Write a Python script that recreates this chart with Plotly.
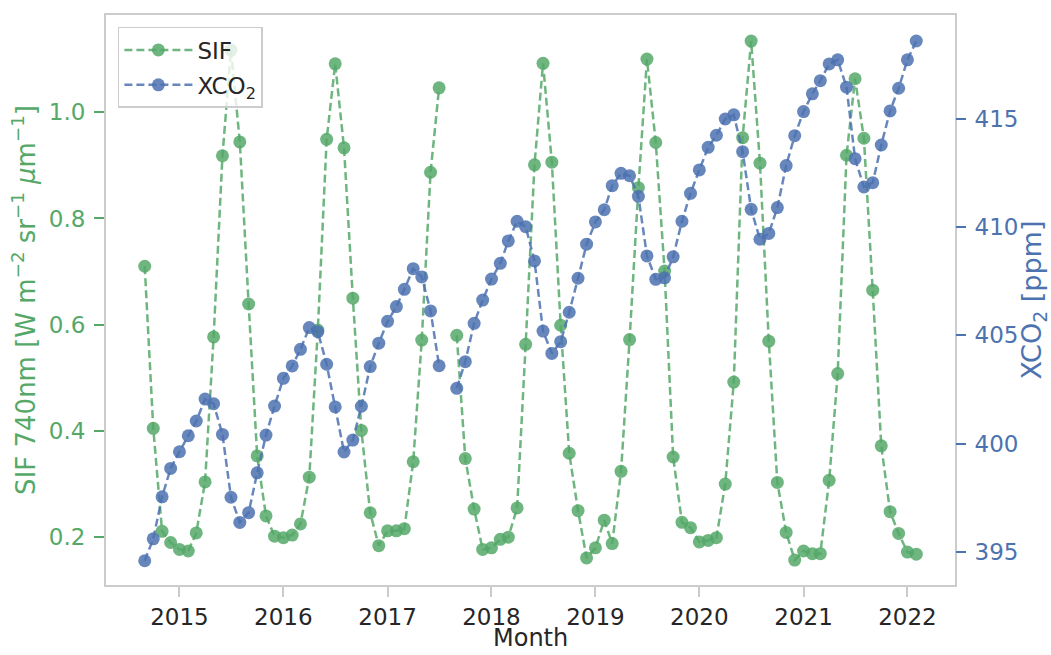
import pandas as pd
import plotly.graph_objects as go

# Monthly series, Sep 2014 - Feb 2022 (None = month with no retrieval)
months = pd.date_range("2014-09-01", "2022-02-01", freq="MS")

sif = [
    0.710, 0.405, 0.211, 0.190,
    0.177, 0.174, 0.208, 0.304, 0.577, 0.918, 1.117, 0.944, 0.639, 0.353, 0.240, 0.202,
    0.199, 0.204, 0.225, 0.313, 0.590, 0.949, 1.091, 0.933, 0.650, 0.401, 0.246, 0.184,
    0.212, 0.212, 0.216, 0.342, 0.571, 0.887, 1.046, None, 0.580, 0.348, 0.253, 0.177,
    0.180, 0.196, 0.200, 0.255, 0.563, 0.901, 1.092, 0.906, 0.599, 0.358, 0.250, 0.161,
    0.180, 0.232, 0.188, 0.324, 0.572, 0.858, 1.100, 0.943, 0.701, 0.351, 0.228, 0.218,
    0.191, 0.194, 0.199, 0.300, 0.492, 0.952, 1.134, 0.904, 0.569, 0.303, 0.209, 0.157,
    0.174, 0.169, 0.169, 0.307, 0.508, 0.919, 1.063, 0.951, 0.665, 0.372, 0.248, 0.207,
    0.172, 0.168,
]

xco2 = [
    394.59, 395.60, 397.54, 398.85,
    399.62, 400.36, 401.04, 402.05, 401.84, 400.42, 397.52, 396.36, 396.81, 398.65, 400.39, 401.73,
    403.01, 403.58, 404.35, 405.35, 405.16, 403.66, 401.69, 399.61, 400.16, 401.72, 403.55, 404.63,
    405.64, 406.32, 407.12, 408.07, 407.69, 406.12, 403.59, None, 402.55, 403.78, 405.55, 406.62,
    407.59, 408.32, 409.35, 410.26, 410.01, 408.43, 405.19, 404.16, 404.70, 406.06, 407.63, 409.20,
    410.23, 410.79, 411.90, 412.47, 412.36, 411.41, 408.66, 407.58, 407.65, 408.62, 410.26, 411.55,
    412.63, 413.67, 414.23, 414.98, 415.17, 413.47, 410.81, 409.43, 409.70, 410.89, 412.83, 414.21,
    415.32, 416.14, 416.75, 417.52, 417.71, 416.45, 413.15, 411.84, 412.04, 413.78, 415.35, 416.40,
    417.71, 418.58,
]

sif_ticks = [0.2, 0.4, 0.6, 0.8, 1.0]
xco2_ticks = [395, 400, 405, 410, 415]
year_ticks = [f"{y}-01-01" for y in range(2015, 2023)]
year_labels = [str(y) for y in range(2015, 2023)]

GREEN = "#55A868"
BLUE = "#4C72B0"
GREEN_A = "rgba(85,168,104,0.85)"
BLUE_A = "rgba(76,114,176,0.85)"
FRAME = "#cccccc"
TEXT = "#262626"
FONT = "DejaVu Sans"
TICK_FS = 23

fig = go.Figure()
fig.add_trace(go.Scatter(
    x=months, y=sif, name="SIF", mode="lines+markers", legendgroup="a",
    line=dict(color=GREEN_A, width=2.5, dash="8px,4px"),
    marker=dict(color=GREEN_A, size=13, line=dict(width=0)),
    yaxis="y",
))
fig.add_trace(go.Scatter(
    x=months, y=xco2, name="XCO<sub>2</sub>", mode="lines+markers", legendgroup="b",
    line=dict(color=BLUE_A, width=2.5, dash="8px,4px"),
    marker=dict(color=BLUE_A, size=13, line=dict(width=0)),
    yaxis="y2",
))

# x-axis title sitting on the bottom edge of the figure, below the tick labels
fig.add_annotation(
    text="Month", xref="paper", yref="paper", x=0.5, y=0,
    xanchor="center", yanchor="bottom", yshift=-69, showarrow=False,
    font=dict(family=FONT, size=24, color=TEXT),
)

fig.update_layout(
    width=1051, height=655,
    margin=dict(l=106, r=96, t=15, b=70),
    paper_bgcolor="white", plot_bgcolor="white",
    font=dict(family=FONT, size=TICK_FS, color=TEXT),
    showlegend=True,
    legend=dict(
        x=0.014, y=0.979, xanchor="left", yanchor="top",
        bgcolor="rgba(255,255,255,0.8)", bordercolor=FRAME, borderwidth=1.5,
        font=dict(family=FONT, size=TICK_FS, color=TEXT),
        tracegroupgap=2, itemwidth=68,
    ),
    xaxis=dict(
        range=["2014-04-18", "2022-06-17"], automargin=False,
        tickmode="array", tickvals=year_ticks, ticktext=year_labels,
        ticks="outside", ticklen=10, tickwidth=2, tickcolor=FRAME,
        showgrid=False, zeroline=False,
        showline=True, linecolor=FRAME, linewidth=2, mirror=True,
        tickfont=dict(size=TICK_FS, color=TEXT),
    ),
    yaxis=dict(
        range=[0.110, 1.183], automargin=False,
        tickmode="array", tickvals=sif_ticks, ticktext=[f"{v:.1f}" for v in sif_ticks],
        ticks="outside", ticklen=10, tickwidth=2, tickcolor=GREEN,
        showgrid=False, zeroline=False,
        showline=True, linecolor=FRAME, linewidth=2, mirror=True,
        tickfont=dict(size=TICK_FS, color=GREEN),
        ticklabelstandoff=4,
        title=dict(
            text="SIF 740nm [W m<sup>\u22122</sup> sr<sup>\u22121</sup> <i>\u03bc</i>m<sup>\u22121</sup>]",
            font=dict(size=26, color=GREEN), standoff=6,
        ),
    ),
    yaxis2=dict(
        range=[393.47, 419.78], overlaying="y", side="right", automargin=False,
        tickmode="array", tickvals=xco2_ticks, ticktext=[str(v) for v in xco2_ticks],
        ticks="outside", ticklen=10, tickwidth=2, tickcolor=BLUE,
        showgrid=False, zeroline=False, showline=False,
        tickfont=dict(size=TICK_FS, color=BLUE),
        ticklabelstandoff=4,
        title=dict(text="XCO<sub>2</sub> [ppm]", font=dict(size=27, color=BLUE), standoff=10),
    ),
)

fig.write_html("out.html")
